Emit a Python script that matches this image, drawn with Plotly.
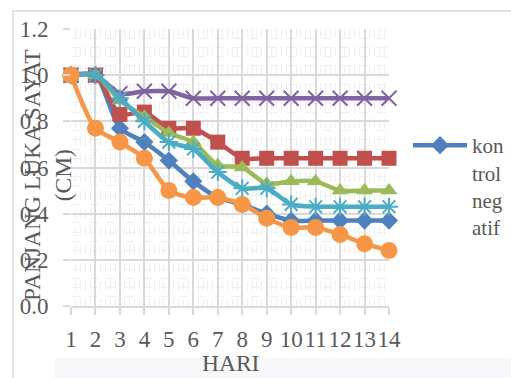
import plotly.graph_objects as go

# Days of observation
hari = list(range(1, 15))

# Wound length (cm) per treatment group
kontrol_negatif = [1.00, 1.00, 0.77, 0.71, 0.63, 0.54, 0.47, 0.44, 0.40, 0.37, 0.37, 0.37, 0.37, 0.37]
perlakuan_2 = [1.00, 1.00, 0.83, 0.84, 0.77, 0.77, 0.71, 0.64, 0.64, 0.64, 0.64, 0.64, 0.64, 0.64]
perlakuan_3 = [1.00, 1.00, 0.89, 0.82, 0.75, 0.71, 0.61, 0.60, 0.53, 0.54, 0.54, 0.50, 0.50, 0.50]
perlakuan_4 = [1.00, 1.00, 0.92, 0.93, 0.93, 0.90, 0.90, 0.90, 0.90, 0.90, 0.90, 0.90, 0.90, 0.90]
perlakuan_5 = [1.00, 1.00, 0.90, 0.80, 0.71, 0.68, 0.58, 0.51, 0.51, 0.44, 0.43, 0.43, 0.43, 0.43]
perlakuan_6 = [1.00, 0.77, 0.71, 0.64, 0.50, 0.47, 0.47, 0.44, 0.38, 0.34, 0.34, 0.31, 0.27, 0.24]

y_ticks = [0.0, 0.2, 0.4, 0.6, 0.8, 1.0, 1.2]

W, H = 511, 378
ML, MR, MT, MB = 71, 122, 29, 72
PW, PH = W - ML - MR, H - MT - MB


def px(xp):
    return (xp - ML) / PW


def py(yp):
    return (H - MB - yp) / PH


FONT = "Liberation Serif"
TXT = "#595959"
GRID = "#d9d9d9"

series = [
    ("kon<br>trol<br>neg<br>atif", kontrol_negatif, "#4f81bd", "diamond", 14, True),
    ("perlakuan 2", perlakuan_2, "#c0504d", "square", 15, False),
    ("perlakuan 3", perlakuan_3, "#9bbb59", "triangle-up", 15, False),
    ("perlakuan 4", perlakuan_4, "#8064a2", "x-thin", 15, False),
    ("perlakuan 5", perlakuan_5, "#4bacc6", "asterisk", 15, False),
    ("perlakuan 6", perlakuan_6, "#f79646", "circle", 17, False),
]

fig = go.Figure()
for name, vals, color, sym, size, show in series:
    thin = sym in ("x-thin", "asterisk")
    fig.add_trace(go.Scatter(
        x=hari, y=vals, name=name, mode="lines+markers",
        line=dict(color=color, width=4.5, shape="spline", smoothing=0.7),
        marker=dict(symbol=sym, size=size, color=color,
                    line=dict(color=color, width=2 if thin else 0)),
        showlegend=show, cliponaxis=False,
    ))

# Outer chart frame and faint footer band
fig.add_shape(type="rect", xref="paper", yref="paper",
              x0=px(55), x1=px(W + 5), y0=py(H + 5), y1=py(358),
              fillcolor="#f8f8fa", line=dict(width=0), layer="below")
fig.add_shape(type="rect", xref="paper", yref="paper",
              x0=px(13), x1=px(W + 20), y0=py(H + 20), y1=py(11),
              line=dict(color=GRID, width=1.5), layer="below")

fig.add_annotation(text="PANJANG LUKA SAYAT<br>(CM)", xref="paper", yref="paper",
                   x=px(48), y=py(175), textangle=-90, showarrow=False,
                   xanchor="center", yanchor="middle",
                   font=dict(family=FONT, size=23.5, color=TXT))
fig.add_annotation(text="HARI", xref="paper", yref="paper",
                   x=0.5, y=py(363), showarrow=False,
                   xanchor="center", yanchor="middle",
                   font=dict(family=FONT, size=23.5, color=TXT))

fig.update_xaxes(
    range=[1, 14], tickmode="array", tickvals=hari, ticktext=[str(h) for h in hari],
    tickangle=0,
    showgrid=True, gridcolor=GRID, gridwidth=2,
    minor=dict(dtick=0.2, showgrid=True, gridcolor="#efefef", griddash="dash", gridwidth=1),
    ticks="outside", ticklen=7, tickcolor=GRID, tickwidth=2,
    showline=True, linecolor=GRID, linewidth=2, zeroline=False,
    tickfont=dict(family=FONT, size=23, color=TXT), ticklabelstandoff=4,
)
fig.update_yaxes(
    range=[0, 1.2], tickmode="array", tickvals=y_ticks,
    ticktext=[f"{v:.1f}" for v in y_ticks],
    showgrid=True, gridcolor=GRID, gridwidth=2,
    minor=dict(dtick=0.04, showgrid=True, gridcolor="#efefef", griddash="dash", gridwidth=1),
    ticks="outside", ticklen=7, tickcolor=GRID, tickwidth=2,
    zeroline=False, showline=False,
    tickfont=dict(family=FONT, size=23, color=TXT), ticklabelstandoff=10,
)

fig.update_layout(
    width=W, height=H, autosize=False,
    margin=dict(l=ML, r=MR, t=MT, b=MB, pad=0, autoexpand=False),
    paper_bgcolor="white", plot_bgcolor="white",
    legend=dict(x=px(408), y=py(125), xanchor="left", yanchor="top",
                valign="top", itemwidth=54, tracegroupgap=0,
                font=dict(family=FONT, size=21, color=TXT),
                bgcolor="rgba(0,0,0,0)"),
)

fig.write_html("out.html")
